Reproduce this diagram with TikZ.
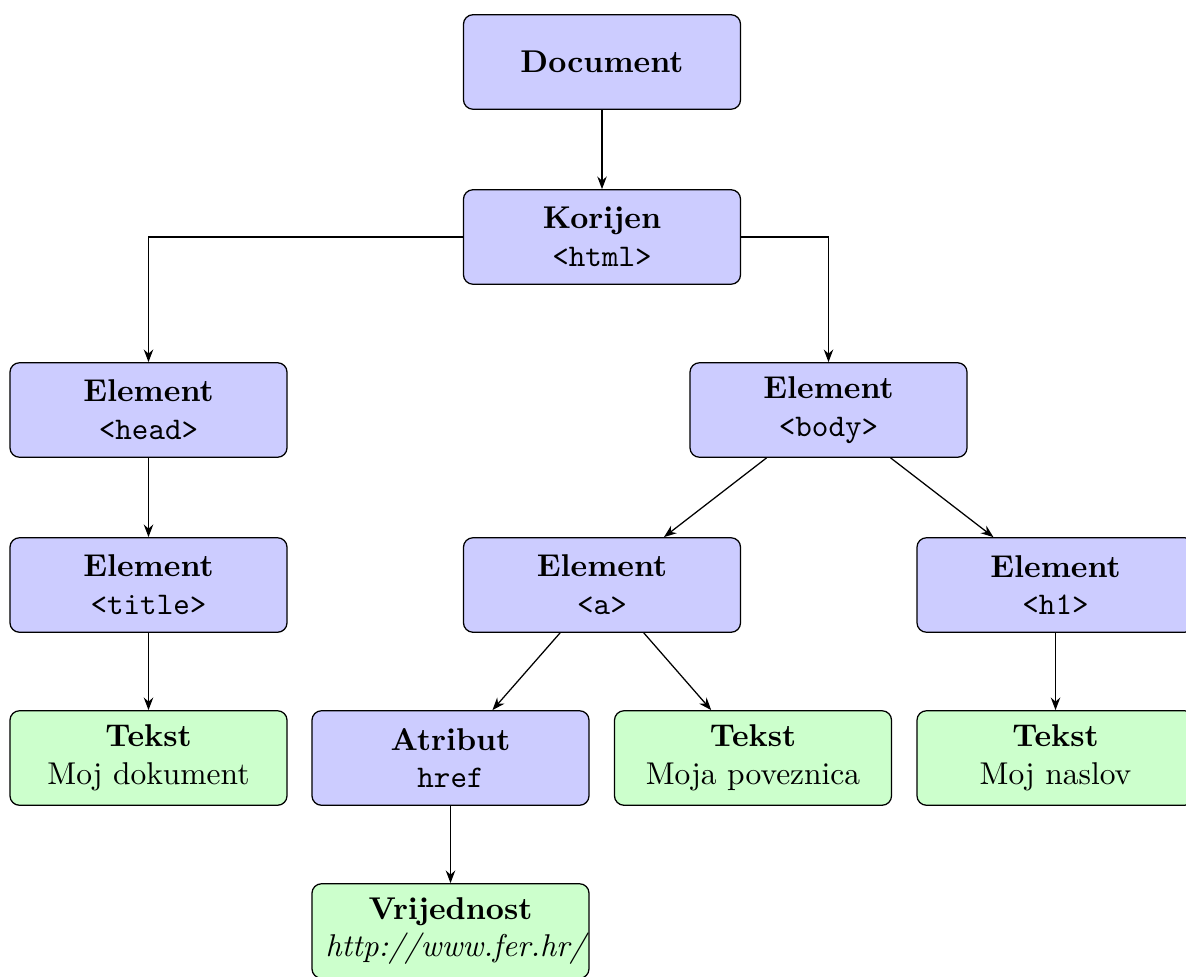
\documentclass[tikz,border=0pt]{standalone}
\usetikzlibrary{arrows.meta}
\begin{document}
\begin{tikzpicture}[x=0.3175pt,y=-0.3175pt,
  box/.style={draw=black,rounded corners=3pt,text width=81.3pt,align=center,minimum height=30pt,inner sep=3.33pt},
  bluebox/.style={box,fill=blue!20},
  greenbox/.style={box,fill=green!20},
  conn/.style={-{Stealth[length=4pt,width=3pt]},line width=0.4pt}]
\useasboundingbox (0,0) rectangle (1186,977);
\node[bluebox] (doc) at (602,62) {\textbf{Document}};
\node[bluebox] (kor) at (602,237) {\textbf{Korijen}\\\texttt{<html>}};
\node[bluebox] (head) at (148.5,410) {\textbf{Element}\\\texttt{<head>}};
\node[bluebox] (body) at (828.5,410) {\textbf{Element}\\\texttt{<body>}};
\node[bluebox] (title) at (148.5,585) {\textbf{Element}\\\texttt{<title>}};
\node[bluebox] (a) at (602,585) {\textbf{Element}\\\texttt{<a>}};
\node[bluebox] (h1) at (1055.5,585) {\textbf{Element}\\\texttt{<h1>}};
\node[greenbox] (t1) at (148.5,758) {\textbf{Tekst}\\Moj dokument};
\node[bluebox] (atr) at (450.5,758) {\textbf{Atribut}\\\texttt{href}};
\node[greenbox] (t2) at (753,758) {\textbf{Tekst}\\Moja poveznica};
\node[greenbox] (t3) at (1055.5,758) {\textbf{Tekst}\\Moj naslov};
\node[greenbox] (vr) at (450.5,931) {\textbf{Vrijednost}\\\hbox to 81.3pt{\hskip1pt\textit{http://www.fer.hr/}\hss}};
\draw[conn] (doc) -- (kor);
\draw[conn] (kor.west) -| (head.north);
\draw[conn] (kor.east) -| (body.north);
\draw[conn] (head) -- (title);
\draw[conn] (title) -- (t1);
\draw[conn] (body) -- (a);
\draw[conn] (body) -- (h1);
\draw[conn] (a) -- (atr);
\draw[conn] (a) -- (t2);
\draw[conn] (h1) -- (t3);
\draw[conn] (atr) -- (vr);
\end{tikzpicture}
\end{document}
